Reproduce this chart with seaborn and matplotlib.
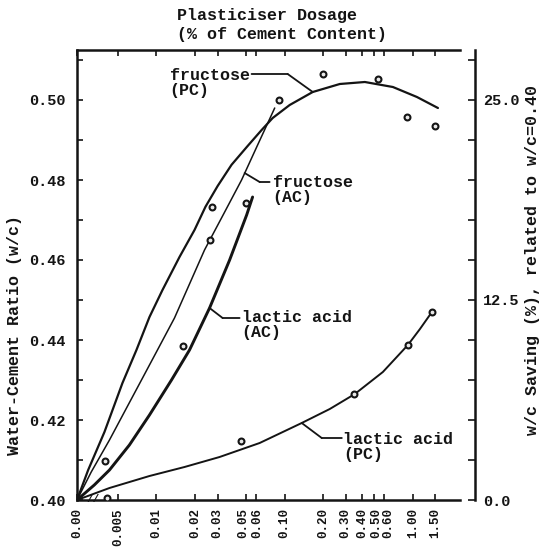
import numpy as np
import matplotlib
matplotlib.use("Agg")
import matplotlib.pyplot as plt
import matplotlib.transforms as mtransforms
import seaborn as sns

# ---------------- data ----------------
# fitted curves (dosage in % of cement, w/c ratio)
fructose_pc_x = [0, 0.00157, 0.00386, 0.00543, 0.00698, 0.00882, 0.01114, 0.01512, 0.0198, 0.0241,
                 0.030, 0.0385, 0.0514, 0.0661, 0.0806, 0.1094, 0.1655, 0.269, 0.422, 0.698, 1.075, 1.568]
fructose_pc_y = [0.400, 0.4075, 0.417, 0.42925, 0.4375, 0.44575, 0.4525, 0.46075, 0.4675, 0.4733,
                 0.4785, 0.4838, 0.4885, 0.4925, 0.4955, 0.49875, 0.502, 0.504, 0.5045, 0.50325, 0.50075, 0.498]

fructose_ac_x = [0, 0.002, 0.0043, 0.00573, 0.00764, 0.01018, 0.01382, 0.0181, 0.0237, 0.0334, 0.0461, 0.0615, 0.0836]
fructose_ac_y = [0.400, 0.407, 0.415, 0.4225, 0.430, 0.4375, 0.4455, 0.454, 0.4625, 0.4715, 0.480, 0.48875, 0.498]

lactic_ac_x = [0, 0.00243, 0.0043, 0.00615, 0.00882, 0.0131, 0.0181, 0.02595, 0.0372, 0.0505, 0.0562]
lactic_ac_y = [0.400, 0.40375, 0.4075, 0.41375, 0.42125, 0.430, 0.4375, 0.448, 0.460, 0.47125, 0.47575]

lactic_pc_x = [0, 0.0043, 0.00882, 0.01655, 0.03106, 0.0638, 0.1358, 0.2247, 0.3524, 0.583, 0.914, 1.135, 1.407]
lactic_pc_y = [0.400, 0.403, 0.406, 0.40825, 0.41075, 0.41425, 0.41925, 0.42275, 0.4265, 0.432, 0.43875, 0.44275, 0.447]

# measured points
pts_fructose_pc_x = [0.027, 0.09, 0.20, 0.53, 0.90, 1.50]
pts_fructose_pc_y = [0.4733, 0.500, 0.5065, 0.5053, 0.4958, 0.4935]
pts_fructose_ac_x = [0.0039, 0.026]
pts_fructose_ac_y = [0.4098, 0.465]
pts_lactic_ac_x = [0.016, 0.050]
pts_lactic_ac_y = [0.4385, 0.4743]
pts_lactic_pc_x = [0.0041, 0.046, 0.35, 0.91, 1.41]
pts_lactic_pc_y = [0.4005, 0.4148, 0.4265, 0.4388, 0.447]

# axis ticks
x_ticks = [0, 0.005, 0.01, 0.02, 0.03, 0.05, 0.06, 0.10, 0.20, 0.30, 0.40, 0.50, 0.60, 1.00, 1.50]
x_tick_labels = ["0.00", "0.005", "0.01", "0.02", "0.03", "0.05", "0.06", "0.10", "0.20",
                 "0.30", "0.40", "0.50", "0.60", "1.00", "1.50"]
y_ticks = [0.40, 0.42, 0.44, 0.46, 0.48, 0.50]
y_tick_labels = ["0.40", "0.42", "0.44", "0.46", "0.48", "0.50"]
y2_ticks = [0.0, 12.5, 25.0]
y2_tick_labels = ["0.0", "12.5", "25.0"]

# ---------------- style ----------------
sns.set_theme(style="ticks")
MONO = ["Liberation Mono", "DejaVu Sans Mono"]
plt.rcParams["font.family"] = MONO
plt.rcParams["font.weight"] = "bold"
INK = "#141414"

# broken log axis: 0 is placed just left of the log part
DB = 0.004
P0 = np.log10(0.0024)
LB = np.log10(DB)


def fwd(d):
    d = np.asarray(d, dtype=float)
    return np.where(d >= DB, np.log10(np.clip(d, DB, None)), P0 + (LB - P0) * d / DB)


def inv(p):
    p = np.asarray(p, dtype=float)
    return np.where(p >= LB, 10.0 ** np.clip(p, LB, 5), (p - P0) / (LB - P0) * DB)


fig = plt.figure(figsize=(5.44, 5.56), dpi=100)
ax = fig.add_axes([77 / 544, 56 / 556, (475 - 77) / 544, 450 / 556])
ax.set_xscale("function", functions=(fwd, inv))
ax.set_xlim(0, 3.05)
ax.set_ylim(0.40, 0.5125)

line_kw = dict(ax=ax, color=INK, sort=False, estimator=None, legend=False)
sns.lineplot(x=fructose_pc_x, y=fructose_pc_y, linewidth=1.6, **line_kw)
sns.lineplot(x=fructose_ac_x, y=fructose_ac_y, linewidth=1.1, **line_kw)
sns.lineplot(x=lactic_ac_x, y=lactic_ac_y, linewidth=2.1, **line_kw)
sns.lineplot(x=lactic_pc_x, y=lactic_pc_y, linewidth=1.4, **line_kw)

sc_kw = dict(ax=ax, s=18, color="#e8e8e8", edgecolor=INK, linewidth=1.5, legend=False, zorder=5)
for px, py in [(pts_fructose_pc_x, pts_fructose_pc_y), (pts_fructose_ac_x, pts_fructose_ac_y),
               (pts_lactic_ac_x, pts_lactic_ac_y), (pts_lactic_pc_x, pts_lactic_pc_y)]:
    sns.scatterplot(x=px, y=py, **sc_kw)

# axes decoration
for s in ["left", "top", "bottom"]:
    ax.spines[s].set_linewidth(1.8)
    ax.spines[s].set_color(INK)
ax.spines["right"].set_visible(False)
ax.spines["top"].set_bounds(0, 2.33)
ax.spines["bottom"].set_bounds(0, 2.33)

ax.set_xticks(x_ticks)
ax.set_xticklabels(x_tick_labels, rotation=90, fontsize=9, fontweight="bold")
ax.xaxis.set_minor_locator(matplotlib.ticker.NullLocator())
ax.set_yticks(y_ticks)
ax.set_yticklabels(y_tick_labels, fontsize=11, fontweight="bold")
ax.yaxis.set_minor_locator(matplotlib.ticker.MultipleLocator(0.01))
ax.tick_params(axis="x", direction="in", length=4, width=1.2, top=True, colors=INK, pad=6)
ax.tick_params(axis="y", which="both", direction="in", length=4, width=1.2, colors=INK, pad=8)
ax.set_xlabel("")
ax.set_ylabel("")

# nudge crowded x tick labels apart (pixel offsets)
label_shift_px = {"0.05": -3.0, "0.06": 1.5, "0.30": -1.0, "0.50": 1.5, "0.60": 3.5}
for lab in ax.get_xticklabels():
    dx = label_shift_px.get(lab.get_text(), 0.0)
    if dx:
        lab.set_transform(lab.get_transform() + mtransforms.ScaledTranslation(dx / 100, 0, fig.dpi_scale_trans))

ax2 = ax.twinx()
ax2.set_ylim(0, (0.5125 - 0.40) / 0.40 * 100)
for s in ["left", "top", "bottom"]:
    ax2.spines[s].set_visible(False)
ax2.spines["right"].set_linewidth(1.8)
ax2.spines["right"].set_color(INK)
ax2.set_yticks(y2_ticks)
ax2.set_yticklabels(y2_tick_labels, fontsize=11, fontweight="bold")
ax2.yaxis.set_minor_locator(matplotlib.ticker.MultipleLocator(2.5))
ax2.tick_params(axis="y", which="both", direction="in", length=5, width=1.2, colors=INK, pad=6)

# axis break mark
ax.text(0.0023, 0.4003, "//", fontsize=8, fontweight="bold", color=INK, ha="center", va="center")

# annotations with leader lines
ann_kw = dict(fontsize=12, fontweight="bold", color=INK, ha="left", va="center", linespacing=1.0)
lead = dict(arrowstyle="-", color=INK, lw=1.3, shrinkA=0, shrinkB=0)

ax.text(0.01264, 0.5042, "fructose\n(PC)", **ann_kw)
ax.annotate("", xy=(0.1055, 0.5065), xytext=(0.0552, 0.5065), arrowprops=lead)
ax.annotate("", xy=(0.1655, 0.502), xytext=(0.1055, 0.5065), arrowprops=lead)

ax.text(0.0806, 0.4775, "fructose\n(AC)", **ann_kw)
ax.annotate("", xy=(0.0487, 0.48175), xytext=(0.0638, 0.4795), arrowprops=lead)
ax.annotate("", xy=(0.0638, 0.4795), xytext=(0.0763, 0.4795), arrowprops=lead)

ax.text(0.0461, 0.44375, "lactic acid\n(AC)", **ann_kw)
ax.annotate("", xy=(0.02595, 0.448), xytext=(0.0328, 0.4455), arrowprops=lead)
ax.annotate("", xy=(0.0328, 0.4455), xytext=(0.0445, 0.4455), arrowprops=lead)

ax.text(0.284, 0.41325, "lactic acid\n(PC)", **ann_kw)
ax.annotate("", xy=(0.1358, 0.41925), xytext=(0.1945, 0.4155), arrowprops=lead)
ax.annotate("", xy=(0.1945, 0.4155), xytext=(0.279, 0.4155), arrowprops=lead)

# titles / axis labels
txt_kw = dict(fontsize=12, fontweight="bold", color=INK, ha="center", va="center")
fig.text(267 / 544, 1 - 15.5 / 556, "Plasticiser Dosage", **txt_kw)
fig.text(282 / 544, 1 - 34.5 / 556, "(% of Cement Content)", **txt_kw)
fig.text(15 / 544, 1 - 335 / 556, "Water-Cement Ratio (w/c)", rotation=90, **txt_kw)
fig.text(533 / 544, 1 - 260 / 556, "w/c Saving (%), related to w/c=0.40", rotation=90, **txt_kw)

fig.savefig("out.png", dpi=100, facecolor="white")
